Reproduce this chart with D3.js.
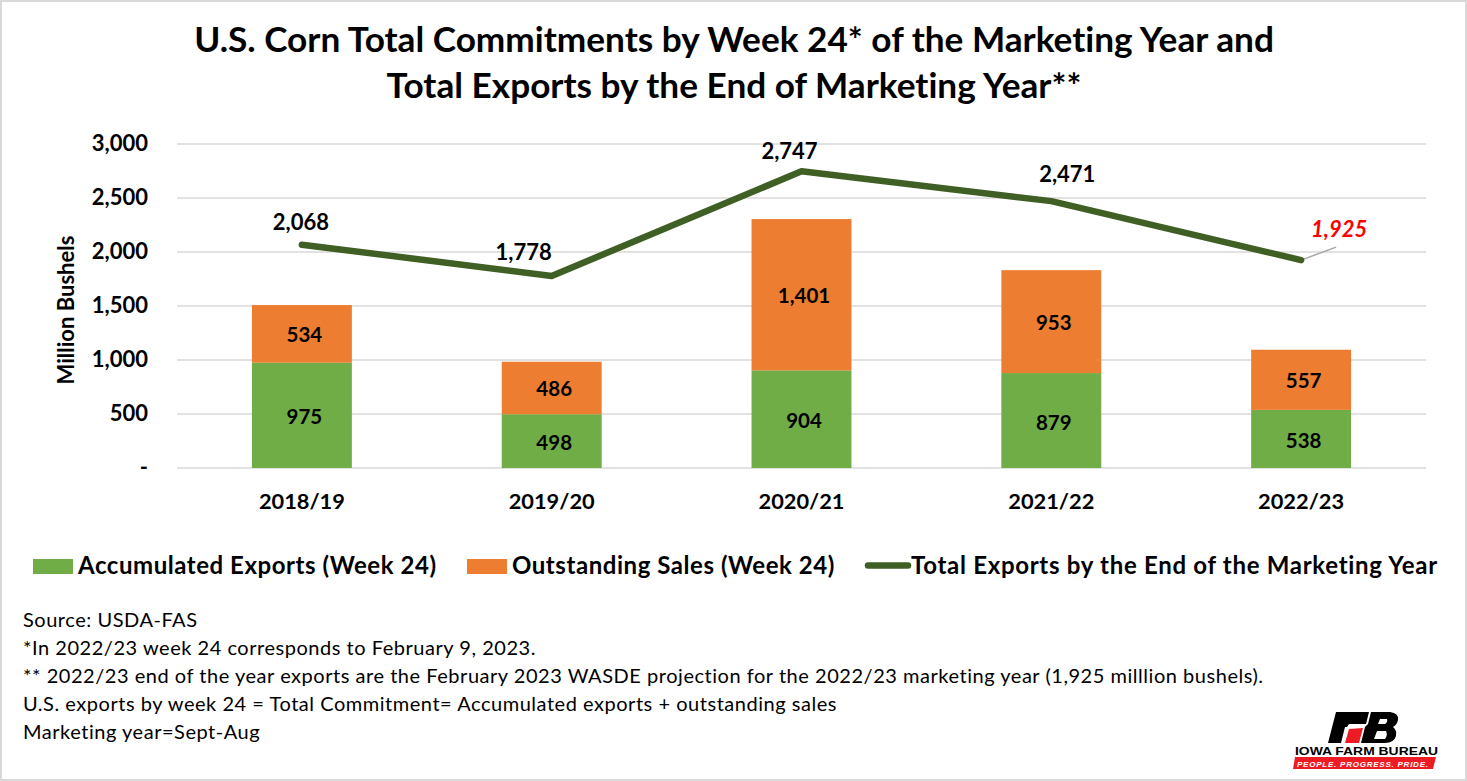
<!DOCTYPE html>
<html>
<head>
<meta charset="utf-8">
<script src="https://cdn.jsdelivr.net/npm/d3@7"></script>
<style>
  html, body { margin: 0; padding: 0; background: #fff; }
  text { font-family: Lato, "Open Sans", sans-serif; fill: #000; font-variant-ligatures: none; }
</style>
</head>
<body>
<div id="viz"></div>
<script>
var years = ["2018/19", "2019/20", "2020/21", "2021/22", "2022/23"];
var accumulated = [975, 498, 904, 879, 538];
var outstanding = [534, 486, 1401, 953, 557];
var totalExports = [2068, 1778, 2747, 2471, 1925];
var yTicks = [0, 500, 1000, 1500, 2000, 2500, 3000];
var titleLines = [
  "U.S. Corn Total Commitments by Week 24* of the Marketing Year and",
  "Total Exports by the End of Marketing Year**"
];
var notes = [
  "Source: USDA-FAS",
  "*In 2022/23 week 24 corresponds to February 9, 2023.",
  "** 2022/23 end of the year exports are the February 2023 WASDE projection for the 2022/23 marketing year (1,925 milllion bushels).",
  "U.S. exports by week 24 = Total Commitment= Accumulated exports + outstanding sales",
  "Marketing year=Sept-Aug"
];

var green = "#70ad47", orange = "#ed7d31", dark = "#3f5f24", grid = "#d9d9d9";
var W = 1467, H = 781;

var svg = d3.select("#viz").append("svg")
  .attr("width", W).attr("height", H)
  .style("display", "block");

svg.append("rect")
  .attr("x", 1).attr("y", 1)
  .attr("width", W - 2).attr("height", H - 2)
  .attr("fill", "#fff").attr("stroke", grid).attr("stroke-width", 2);

// title
svg.selectAll(".title").data(titleLines).enter().append("text")
  .attr("class", "title")
  .attr("x", 734)
  .attr("y", function(d, i) { return 52 + i * 46; })
  .attr("text-anchor", "middle")
  .style("font-size", "35.2px")
  .style("font-weight", 700)
  .text(function(d) { return d; });

var x = d3.scaleBand().domain(years).range([177, 1426]).paddingInner(0.6).paddingOuter(0.3);
var y = d3.scaleLinear().domain([0, 3000]).range([468, 144]);
var cx = function(d) { return x(d) + x.bandwidth() / 2; };

// gridlines
svg.selectAll(".grid").data(yTicks).enter().append("line")
  .attr("class", "grid")
  .attr("x1", 177).attr("x2", 1426)
  .attr("y1", function(d) { return y(d); })
  .attr("y2", function(d) { return y(d); })
  .attr("stroke", grid).attr("stroke-width", 1.5);

// y labels
svg.selectAll(".ytick").data(yTicks).enter().append("text")
  .attr("class", "ytick")
  .attr("x", 148)
  .attr("y", function(d) { return y(d) + 7; })
  .attr("text-anchor", "end")
  .style("font-size", "22px")
  .style("font-weight", 700)
  .text(function(d) { return d === 0 ? "-" : d3.format(",")(d); });

svg.append("text")
  .attr("transform", "translate(74,310) rotate(-90)")
  .attr("text-anchor", "middle")
  .style("font-size", "22px")
  .style("font-weight", 700)
  .text("Million Bushels");

// x labels
svg.selectAll(".xtick").data(years).enter().append("text")
  .attr("class", "xtick")
  .attr("x", cx)
  .attr("y", 509)
  .attr("text-anchor", "middle")
  .style("font-size", "21.8px")
  .style("font-weight", 700)
  .text(function(d) { return d; });

// bars
svg.selectAll(".acc").data(years).enter().append("rect")
  .attr("class", "acc")
  .attr("x", function(d) { return x(d); })
  .attr("width", x.bandwidth())
  .attr("y", function(d, i) { return y(accumulated[i]); })
  .attr("height", function(d, i) { return y(0) - y(accumulated[i]); })
  .attr("fill", green);

svg.selectAll(".out").data(years).enter().append("rect")
  .attr("class", "out")
  .attr("x", function(d) { return x(d); })
  .attr("width", x.bandwidth())
  .attr("y", function(d, i) { return y(accumulated[i] + outstanding[i]); })
  .attr("height", function(d, i) { return y(accumulated[i]) - y(accumulated[i] + outstanding[i]); })
  .attr("fill", orange);

// bar labels
svg.selectAll(".accl").data(years).enter().append("text")
  .attr("class", "accl")
  .attr("x", function(d) { return cx(d) + 2.5; })
  .attr("y", function(d, i) { return y(accumulated[i] / 2) + 9; })
  .attr("text-anchor", "middle")
  .style("font-size", "20.5px").style("font-weight", 700)
  .text(function(d, i) { return d3.format(",")(accumulated[i]); });

svg.selectAll(".outl").data(years).enter().append("text")
  .attr("class", "outl")
  .attr("x", function(d) { return cx(d) + 2.5; })
  .attr("y", function(d, i) { return y(accumulated[i] + outstanding[i] / 2) + 8; })
  .attr("text-anchor", "middle")
  .style("font-size", "20.5px").style("font-weight", 700)
  .text(function(d, i) { return d3.format(",")(outstanding[i]); });

// leader line for the last point
var lastYear = years[4], lastTotal = totalExports[4];
svg.append("line")
  .attr("x1", cx(lastYear)).attr("y1", y(lastTotal))
  .attr("x2", cx(lastYear) + 35).attr("y2", y(lastTotal) - 13)
  .attr("stroke", "#a6a6a6").attr("stroke-width", 1.5);

// total exports line
var line = d3.line()
  .x(function(d, i) { return cx(years[i]); })
  .y(function(d) { return y(d); });

svg.append("path")
  .datum(totalExports)
  .attr("d", line)
  .attr("fill", "none")
  .attr("stroke", dark)
  .attr("stroke-width", 6.5)
  .attr("stroke-linecap", "round")
  .attr("stroke-linejoin", "round");

// line labels, moved by hand like in the original
var nudgeX = [-1, -28, -12, 16, 38];
var nudgeY = [-15, -16, -12, -19, -23];
svg.selectAll(".totl").data(years).enter().append("text")
  .attr("class", "totl")
  .attr("x", function(d, i) { return cx(d) + nudgeX[i]; })
  .attr("y", function(d, i) { return y(totalExports[i]) + nudgeY[i]; })
  .attr("text-anchor", "middle")
  .style("font-size", "22px").style("font-weight", 700)
  .style("font-style", function(d, i) { return i === 4 ? "italic" : "normal"; })
  .style("fill", function(d, i) { return i === 4 ? "#ff0000" : "#000"; })
  .text(function(d, i) { return d3.format(",")(totalExports[i]); });

// legend
var legendFont = "24px", legendSpacing = "0.6px";
svg.append("rect").attr("x", 33).attr("y", 559).attr("width", 40).attr("height", 15).attr("fill", green);
svg.append("text").attr("x", 78).attr("y", 574).style("font-size", legendFont).style("letter-spacing", "0.55px").style("font-weight", 700)
  .text("Accumulated Exports (Week 24)");
svg.append("rect").attr("x", 467).attr("y", 559).attr("width", 40).attr("height", 15).attr("fill", orange);
svg.append("text").attr("x", 512).attr("y", 574).style("font-size", legendFont).style("letter-spacing", "0.55px").style("font-weight", 700)
  .text("Outstanding Sales (Week 24)");
svg.append("line").attr("x1", 868).attr("x2", 908).attr("y1", 565.5).attr("y2", 565.5)
  .attr("stroke", dark).attr("stroke-width", 6.5).attr("stroke-linecap", "round");
svg.append("text").attr("x", 911).attr("y", 574).style("font-size", legendFont).style("letter-spacing", "0.7px").style("font-weight", 700)
  .text("Total Exports by the End of the Marketing Year");

// notes
svg.selectAll(".note").data(notes).enter().append("text")
  .attr("class", "note")
  .attr("x", 23)
  .attr("y", function(d, i) { return 626.5 + i * 28.1; })
  .style("font-size", "20px")
  .style("letter-spacing", "0.53px")
  .text(function(d) { return d; });

// logo
var logo = svg.append("g");
logo.append("path").attr("d", "M1328 743 L1336 712 L1369 712 L1366 724 L1349 724 L1347 727 L1345 727 L1341 743 Z").attr("fill", "#000");
logo.append("path").attr("d", "M1345 743 L1349 729 L1363 728 L1359 743 Z").attr("fill", "#ed1c24");
logo.append("path")
  .attr("fill-rule", "evenodd")
  .attr("fill", "#000")
  .attr("d", "M1371 712 L1390 712 Q1399 713 1398 720 Q1397 725 1393 727 Q1397 730 1396 736 Q1394 743 1385 743 L1361 743 L1365 727 L1368 724 Z M1380 719 L1378 724 L1385 724 Q1388 722 1387 719 Z M1377 731 L1374 739 L1385 739 Q1388 735 1386 731 Z");
logo.append("text").attr("x", 1295).attr("y", 755)
  .style("font-family", "'Liberation Sans', sans-serif")
  .style("font-size", "11px").style("font-weight", 700)
  .attr("textLength", 143).attr("lengthAdjust", "spacingAndGlyphs")
  .text("IOWA FARM BUREAU");
logo.append("path").attr("d", "M1295 757 L1436 757 L1433 769 L1293 769 Z").attr("fill", "#ed1c24");
logo.append("text").attr("x", 1297).attr("y", 766.5)
  .style("font-family", "'Liberation Sans', sans-serif")
  .style("font-size", "8px").style("font-weight", 700).style("font-style", "italic").style("fill", "#fff")
  .attr("textLength", 131).attr("lengthAdjust", "spacing")
  .text("PEOPLE. PROGRESS. PRIDE.");
</script>
</body>
</html>
